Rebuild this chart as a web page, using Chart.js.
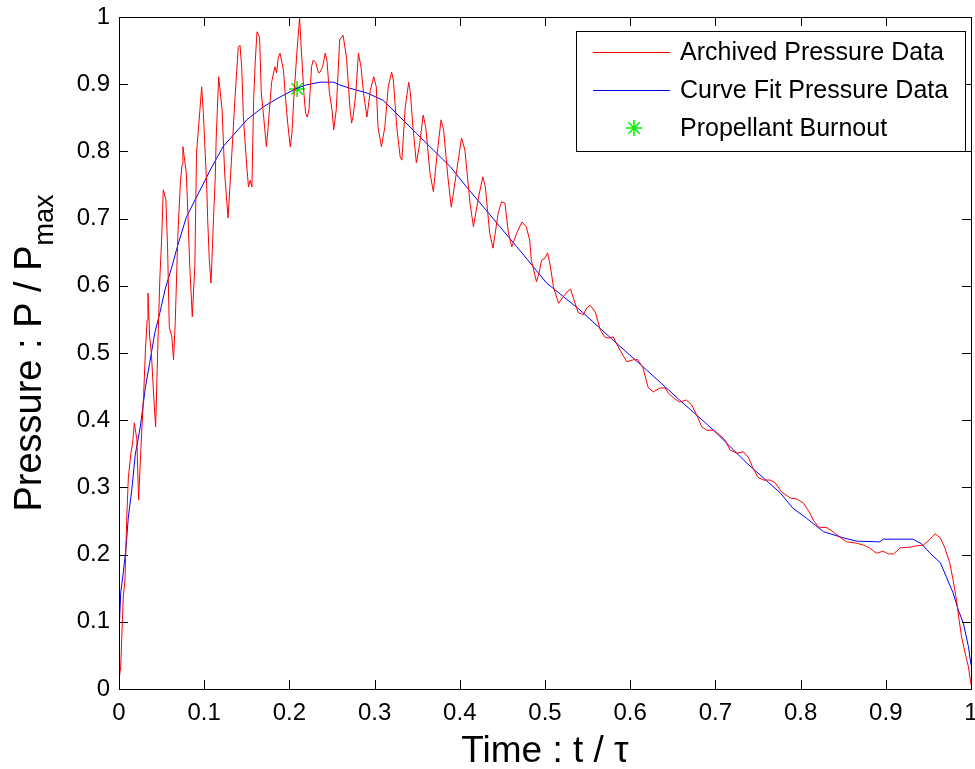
<!DOCTYPE html>
<html>
<head>
<meta charset="utf-8">
<script src="https://cdn.jsdelivr.net/npm/chart.js@4.4.0/dist/chart.umd.min.js"></script>
<style>
    body { margin: 0; background: #fff; }
    #wrap { width: 975px; height: 769px; }
</style>
</head>
<body>
<div id="wrap"><canvas id="pressure_chart" width="975" height="769"></canvas></div>
<script>
// archived pressure trace (t / tau, P / Pmax)
var archivedT = [0, 0.002, 0.005, 0.007, 0.009, 0.011, 0.014, 0.016, 0.018, 0.021, 0.023, 0.026, 0.029, 0.031, 0.033, 0.034, 0.036, 0.038, 0.041, 0.043,
    0.046, 0.048, 0.05, 0.052, 0.055, 0.057, 0.059, 0.062, 0.064, 0.066, 0.069, 0.072, 0.074, 0.075, 0.079, 0.081, 0.083, 0.086, 0.089, 0.091,
    0.095, 0.097, 0.099, 0.103, 0.104, 0.106, 0.108, 0.111, 0.113, 0.114, 0.117, 0.121, 0.124, 0.128, 0.132, 0.136, 0.14, 0.142, 0.144, 0.146,
    0.15, 0.152, 0.154, 0.156, 0.158, 0.16, 0.162, 0.165, 0.167, 0.169, 0.173, 0.175, 0.179, 0.183, 0.185, 0.187, 0.189, 0.193, 0.195, 0.198,
    0.201, 0.203, 0.205, 0.209, 0.212, 0.214, 0.217, 0.219, 0.221, 0.223, 0.226, 0.228, 0.231, 0.234, 0.236, 0.239, 0.242, 0.244, 0.247, 0.25,
    0.252, 0.255, 0.259, 0.263, 0.267, 0.271, 0.273, 0.275, 0.278, 0.281, 0.284, 0.287, 0.291, 0.295, 0.299, 0.302, 0.304, 0.308, 0.312, 0.316,
    0.32, 0.322, 0.326, 0.33, 0.332, 0.336, 0.34, 0.342, 0.345, 0.349, 0.353, 0.357, 0.36, 0.365, 0.369, 0.373, 0.378, 0.381, 0.386, 0.39,
    0.396, 0.402, 0.406, 0.412, 0.416, 0.422, 0.427, 0.43, 0.435, 0.439, 0.445, 0.449, 0.453, 0.457, 0.461, 0.467, 0.473, 0.478, 0.482, 0.484,
    0.49, 0.493, 0.496, 0.5, 0.503, 0.506, 0.51, 0.516, 0.521, 0.526, 0.53, 0.533, 0.539, 0.545, 0.549, 0.553, 0.559, 0.565, 0.57, 0.574,
    0.58, 0.586, 0.59, 0.596, 0.604, 0.609, 0.615, 0.621, 0.627, 0.635, 0.641, 0.645, 0.651, 0.658, 0.666, 0.672, 0.678, 0.684, 0.69, 0.698,
    0.705, 0.711, 0.717, 0.725, 0.733, 0.739, 0.744, 0.75, 0.756, 0.764, 0.77, 0.778, 0.788, 0.795, 0.803, 0.809, 0.815, 0.821, 0.831, 0.84,
    0.846, 0.854, 0.866, 0.874, 0.881, 0.889, 0.897, 0.903, 0.909, 0.917, 0.928, 0.936, 0.944, 0.952, 0.958, 0.964, 0.969, 0.975, 0.979, 0.983,
    0.986, 0.989, 0.993, 0.997, 1.0];
var archivedP = [0.013, 0.033, 0.137, 0.162, 0.251, 0.315, 0.351, 0.366, 0.396, 0.371, 0.281, 0.366, 0.44, 0.504, 0.549, 0.589, 0.524, 0.5, 0.43, 0.39,
    0.53, 0.613, 0.668, 0.743, 0.728, 0.658, 0.539, 0.524, 0.49, 0.545, 0.673, 0.753, 0.78, 0.807, 0.768, 0.703, 0.631, 0.554, 0.628, 0.798,
    0.862, 0.896, 0.857, 0.747, 0.702, 0.638, 0.604, 0.702, 0.762, 0.817, 0.911, 0.862, 0.768, 0.701, 0.787, 0.876, 0.955, 0.958, 0.926, 0.851,
    0.777, 0.747, 0.757, 0.747, 0.876, 0.936, 0.978, 0.97, 0.887, 0.862, 0.807, 0.836, 0.902, 0.926, 0.917, 0.94, 0.946, 0.921, 0.887, 0.842,
    0.807, 0.827, 0.876, 0.951, 0.999, 0.951, 0.887, 0.857, 0.851, 0.862, 0.926, 0.936, 0.932, 0.917, 0.918, 0.926, 0.946, 0.936, 0.887, 0.862,
    0.832, 0.862, 0.966, 0.973, 0.94, 0.866, 0.842, 0.854, 0.887, 0.946, 0.926, 0.887, 0.851, 0.891, 0.911, 0.896, 0.836, 0.807, 0.836, 0.896,
    0.918, 0.906, 0.836, 0.792, 0.787, 0.866, 0.903, 0.887, 0.836, 0.783, 0.812, 0.854, 0.836, 0.768, 0.74, 0.792, 0.847, 0.832, 0.762, 0.717,
    0.768, 0.82, 0.802, 0.723, 0.688, 0.732, 0.762, 0.747, 0.679, 0.656, 0.708, 0.725, 0.723, 0.679, 0.658, 0.679, 0.695, 0.688, 0.668, 0.638,
    0.606, 0.619, 0.638, 0.641, 0.649, 0.631, 0.598, 0.574, 0.583, 0.591, 0.595, 0.583, 0.56, 0.557, 0.567, 0.571, 0.561, 0.534, 0.524, 0.522,
    0.524, 0.509, 0.5, 0.487, 0.49, 0.49, 0.478, 0.449, 0.442, 0.448, 0.448, 0.44, 0.433, 0.427, 0.43, 0.423, 0.408, 0.39, 0.385, 0.385,
    0.378, 0.371, 0.356, 0.351, 0.353, 0.344, 0.329, 0.315, 0.311, 0.311, 0.307, 0.293, 0.284, 0.283, 0.277, 0.266, 0.251, 0.241, 0.24, 0.232,
    0.226, 0.219, 0.217, 0.214, 0.21, 0.202, 0.205, 0.201, 0.201, 0.21, 0.211, 0.213, 0.214, 0.223, 0.231, 0.225, 0.211, 0.188, 0.162, 0.132,
    0.103, 0.077, 0.054, 0.033, 0.006];

// curve fit
var fitT = [0, 0.002, 0.005, 0.008, 0.011, 0.015, 0.019, 0.025, 0.031, 0.036, 0.042, 0.048, 0.054, 0.062, 0.068, 0.079, 0.091, 0.107, 0.122, 0.134,
    0.15, 0.169, 0.189, 0.209, 0.22, 0.236, 0.252, 0.259, 0.271, 0.291, 0.31, 0.33, 0.349, 0.369, 0.389, 0.408, 0.428, 0.447, 0.467, 0.502,
    0.541, 0.58, 0.619, 0.658, 0.698, 0.737, 0.776, 0.791, 0.807, 0.827, 0.85, 0.866, 0.893, 0.897, 0.932, 0.942, 0.952, 0.964, 0.971, 0.979,
    0.985, 0.991, 0.997, 1.0];
var fitP = [0.083, 0.143, 0.173, 0.207, 0.256, 0.296, 0.348, 0.39, 0.449, 0.485, 0.53, 0.56, 0.594, 0.628, 0.656, 0.702, 0.732, 0.772, 0.807, 0.824,
    0.847, 0.866, 0.881, 0.894, 0.899, 0.903, 0.903, 0.899, 0.894, 0.887, 0.876, 0.851, 0.827, 0.802, 0.777, 0.747, 0.717, 0.688, 0.658, 0.604,
    0.564, 0.519, 0.475, 0.43, 0.385, 0.336, 0.292, 0.269, 0.254, 0.234, 0.225, 0.22, 0.219, 0.223, 0.223, 0.216, 0.202, 0.188, 0.167, 0.143,
    0.118, 0.098, 0.063, 0.036];

// propellant burnout point
var burnoutT = [0.209];
var burnoutP = [0.893];

var axisTicks = [0, 0.1, 0.2, 0.3, 0.4, 0.5, 0.6, 0.7, 0.8, 0.9, 1];

var FONT = "'Liberation Sans', Arial, Helvetica, sans-serif";

function toPoints(xs, ys) {
    return xs.map(function (x, i) { return { x: x, y: ys[i] }; });
}

function tickLabel(value) {
    if (Math.abs(value) < 1e-9) return '0';
    if (Math.abs(value - 1) < 1e-9) return '1';
    return value.toFixed(1);
}

// box round the plot, inward ticks on all four sides, axis titles and legend
const matlabFrame = {
    id: 'matlabFrame',
    afterDraw(chart) {
        const ctx = chart.ctx;
        const a = chart.chartArea;
        const xs = chart.scales.x;
        const ys = chart.scales.y;
        const len = 9;

        ctx.save();
        ctx.strokeStyle = '#000';
        ctx.lineWidth = 1;
        ctx.beginPath();
        axisTicks.forEach(function (v) {
            const px = Math.round(xs.getPixelForValue(v)) + 0.5;
            ctx.moveTo(px, a.bottom);
            ctx.lineTo(px, a.bottom - len);
            ctx.moveTo(px, a.top);
            ctx.lineTo(px, a.top + len);
            const py = Math.round(ys.getPixelForValue(v)) + 0.5;
            ctx.moveTo(a.left, py);
            ctx.lineTo(a.left + len, py);
            ctx.moveTo(a.right, py);
            ctx.lineTo(a.right - len, py);
        });
        ctx.stroke();
        ctx.strokeRect(Math.round(a.left) + 0.5, Math.round(a.top) + 0.5,
            Math.round(a.right - a.left), Math.round(a.bottom - a.top));

        // x title
        ctx.fillStyle = '#000';
        ctx.font = '37px ' + FONT;
        ctx.textAlign = 'center';
        ctx.textBaseline = 'alphabetic';
        ctx.fillText('Time : t / \u03c4', (a.left + a.right) / 2, 762);

        // y title with subscript
        const mainTxt = 'Pressure : P / P';
        const subTxt = 'max';
        ctx.font = '38px ' + FONT;
        const wMain = ctx.measureText(mainTxt).width;
        ctx.font = '27px ' + FONT;
        const wSub = ctx.measureText(subTxt).width;
        ctx.translate(41, (a.top + a.bottom) / 2);
        ctx.rotate(-Math.PI / 2);
        ctx.textAlign = 'left';
        const start = -(wMain + wSub) / 2;
        ctx.font = '38px ' + FONT;
        ctx.fillText(mainTxt, start, 0);
        ctx.font = '27px ' + FONT;
        ctx.fillText(subTxt, start + wMain, 12);
        ctx.restore();

        // legend
        const lx = 576, ly = 31, lw = 389, lh = 120;
        ctx.save();
        ctx.fillStyle = '#fff';
        ctx.fillRect(lx, ly, lw, lh);
        ctx.strokeStyle = '#000';
        ctx.lineWidth = 1;
        ctx.strokeRect(lx + 0.5, ly + 0.5, lw, lh);
        const rows = [52, 90, 128];
        ctx.font = '25px ' + FONT;
        ctx.textAlign = 'left';
        ctx.textBaseline = 'middle';
        chart.data.datasets.forEach(function (ds, i) {
            const y = rows[i];
            if (ds.showLine) {
                ctx.strokeStyle = ds.borderColor;
                ctx.lineWidth = 1;
                ctx.beginPath();
                ctx.moveTo(593, y + 0.5);
                ctx.lineTo(670, y + 0.5);
                ctx.stroke();
            } else {
                ctx.strokeStyle = ds.pointBorderColor;
                ctx.lineWidth = ds.pointBorderWidth;
                Chart.helpers.drawPoint(ctx, {
                    pointStyle: ds.pointStyle,
                    rotation: 0,
                    borderWidth: ds.pointBorderWidth,
                    radius: ds.pointRadius
                }, 634, y);
            }
            ctx.fillStyle = '#000';
            ctx.fillText(ds.label, 680, y + 1);
        });
        ctx.restore();
    }
};

const config = {
    type: 'scatter',
    data: {
        datasets: [
            {
                label: 'Archived Pressure Data',
                data: toPoints(archivedT, archivedP),
                showLine: true,
                borderColor: '#ff0000',
                borderWidth: 1,
                pointRadius: 0,
                tension: 0
            },
            {
                label: 'Curve Fit Pressure Data',
                data: toPoints(fitT, fitP),
                showLine: true,
                borderColor: '#0000ff',
                borderWidth: 1,
                pointRadius: 0,
                tension: 0
            },
            {
                label: 'Propellant Burnout',
                data: toPoints(burnoutT, burnoutP),
                showLine: false,
                pointStyle: 'star',
                pointRadius: 8,
                pointBorderColor: '#00ee00',
                pointBackgroundColor: '#00ee00',
                pointBorderWidth: 1.5
            }
        ]
    },
    options: {
        responsive: false,
        animation: false,
        layout: { autoPadding: false, padding: { top: 17, right: 4, left: 0, bottom: 0 } },
        plugins: {
            legend: { display: false },
            tooltip: { enabled: false }
        },
        scales: {
            x: {
                type: 'linear',
                min: 0,
                max: 1,
                grid: { display: false, drawTicks: false },
                border: { display: false },
                ticks: {
                    stepSize: 0.1,
                    padding: 10,
                    color: '#000',
                    font: { family: FONT, size: 24 },
                    maxRotation: 0,
                    autoSkip: false,
                    callback: tickLabel
                },
                afterFit: function (s) { s.height = 80; s.paddingLeft = 0; s.paddingRight = 0; }
            },
            y: {
                type: 'linear',
                min: 0,
                max: 1,
                grid: { display: false, drawTicks: false },
                border: { display: false },
                ticks: {
                    stepSize: 0.1,
                    padding: 9,
                    color: '#000',
                    font: { family: FONT, size: 24 },
                    autoSkip: false,
                    callback: tickLabel
                },
                afterFit: function (s) { s.width = 119; s.paddingTop = 0; s.paddingBottom = 0; }
            }
        }
    },
    plugins: [matlabFrame]
};

new Chart(document.getElementById('pressure_chart'), config);
</script>
</body>
</html>
